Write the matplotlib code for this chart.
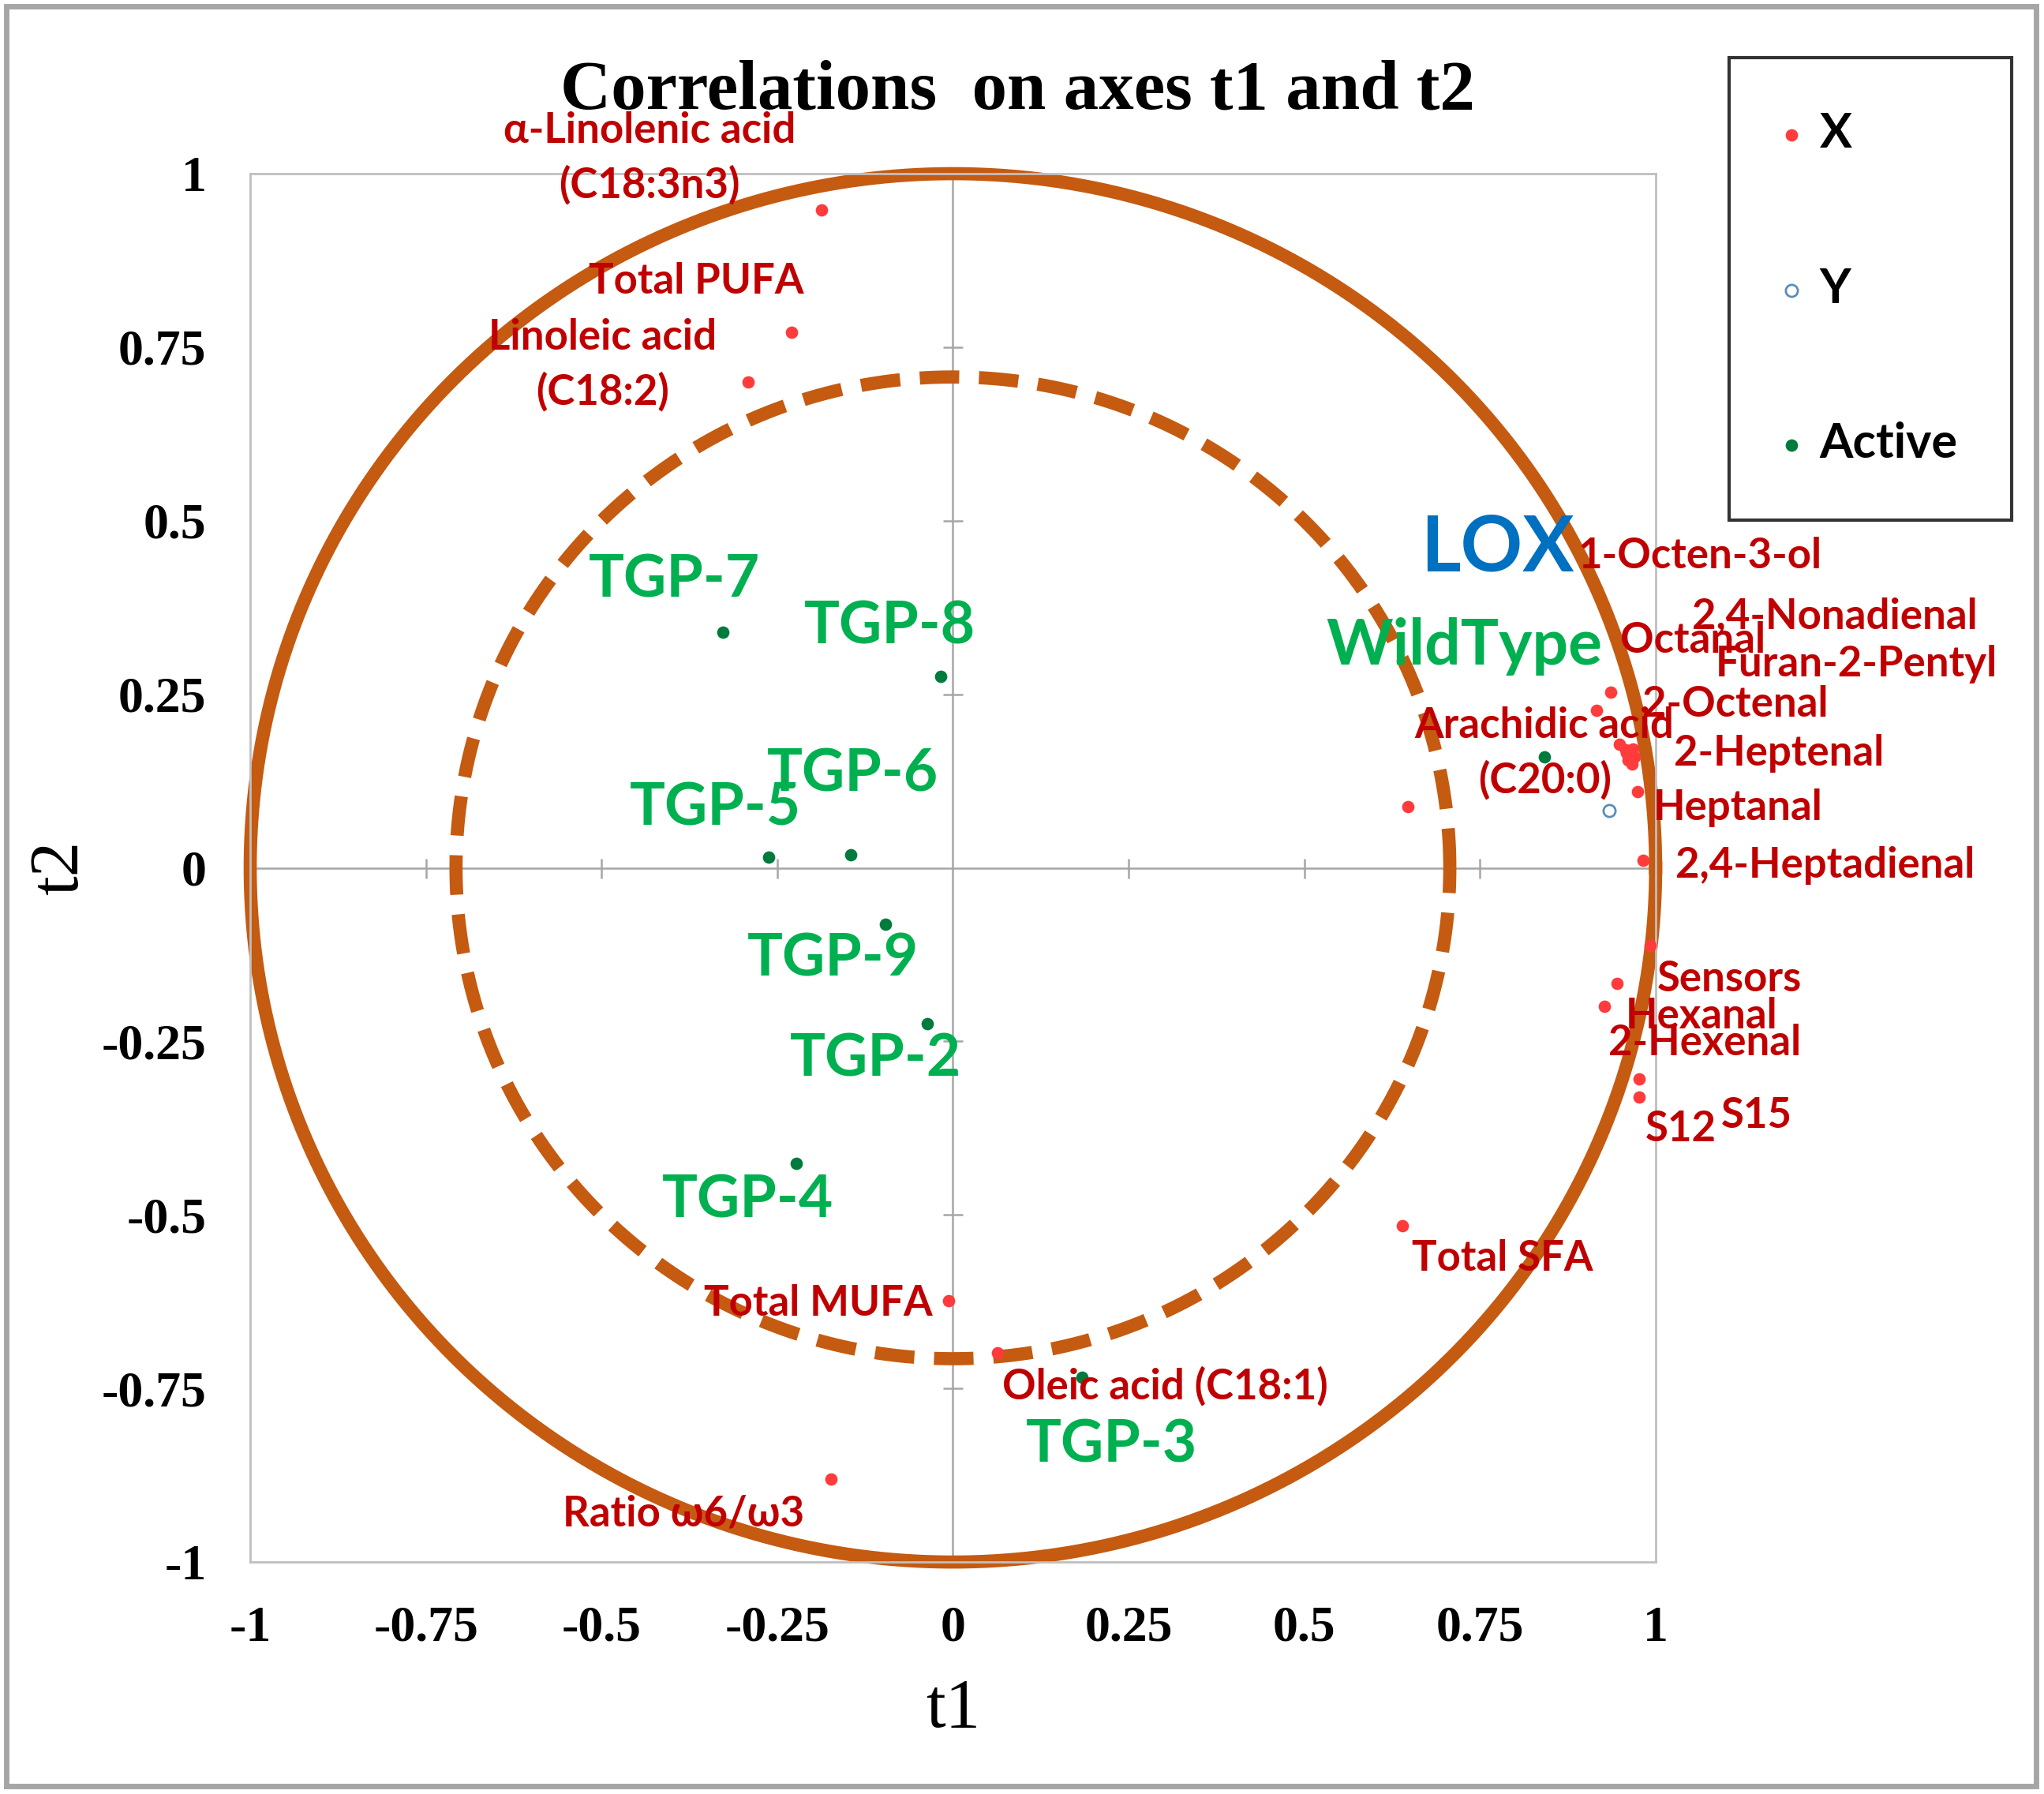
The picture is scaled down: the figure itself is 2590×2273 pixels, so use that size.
import numpy as np
import matplotlib
matplotlib.use('Agg')
import matplotlib.pyplot as plt
from matplotlib.patches import Rectangle

# X variables (red): name, t1, t2
x_names = ['a-lin', 'pufa', 'linoleic', 'arachidic', 'sfa', 'mufa', 'oleic', 'ratio',
           'octenol', 'nonadienal', 'octanal', 'furan', 'octenal', 'heptenal_a', 'heptenal_b',
           'heptenal_c', 'heptanal', 'heptadienal', 'sensors', 'hexanal', 'hexenal', 's12', 's15', 'extra']
x_t1 = [-0.187, -0.230, -0.291, 0.648, 0.640, -0.006, 0.063, -0.174,
        0.936, 0.916, 0.949, 0.957, 0.967, 0.961, 0.970,
        0.958, 0.974, 0.982, 0.945, 0.927, 0.992, 0.976, 0.976, 0.966]
x_t2 = [0.948, 0.772, 0.700, 0.088, -0.515, -0.623, -0.699, -0.881,
        0.253, 0.227, 0.178, 0.170, 0.171, 0.155, 0.160,
        0.165, 0.110, 0.011, -0.167, -0.200, -0.112, -0.304, -0.330, 0.150]

# Y variable (open circle)
y_t1 = [0.934]
y_t2 = [0.082]

# Active observations (green)
obs_names = ['TGP-7', 'TGP-8', 'TGP-5', 'TGP-6', 'TGP-9', 'TGP-2', 'TGP-4', 'TGP-3', 'WildType']
obs_t1 = [-0.327, -0.017, -0.262, -0.145, -0.096, -0.037, -0.223, 0.184, 0.842]
obs_t2 = [0.340, 0.276, 0.015, 0.019, -0.081, -0.225, -0.426, -0.734, 0.160]

# label texts and anchor positions (data coords)
red_labels = ['1-Octen-3-ol', '2,4-Nonadienal', 'Octanal', 'Furan-2-Pentyl', '2-Octenal',
              '2-Heptenal', 'Heptanal', '2,4-Heptadienal', 'Sensors', 'Hexanal', '2-Hexenal',
              'S12', 'S15', 'Total SFA', 'Total MUFA', 'Oleic acid (C18:1)', 'Ratio ω6/ω3']
red_lx = [0.889, 1.052, 0.950, 1.085, 0.981, 1.026, 0.996, 1.028, 1.002, 0.957, 0.933,
          0.985, 1.093, 0.653, -0.354, 0.070, -0.555]
red_ly = [0.449, 0.362, 0.327, 0.293, 0.235, 0.165, 0.086, 0.004, -0.160, -0.214, -0.252,
          -0.376, -0.357, -0.563, -0.627, -0.747, -0.930]

red_center_labels = ['α-Linolenic acid\n(C18:3n3)', 'Total PUFA', 'Linoleic acid\n(C18:2)',
                     'Arachidic acid\n(C20:0)']
red_cx = [-0.432, -0.365, -0.499, 0.842]
red_cy = [1.022, 0.845, 0.725, 0.165]

green_lx = [-0.518, -0.212, -0.460, -0.265, -0.293, -0.232, -0.414, 0.104, 0.531]
green_ly = [0.415, 0.347, 0.086, 0.135, -0.131, -0.276, -0.479, -0.832, 0.319]

ticks = [-1, -0.75, -0.5, -0.25, 0, 0.25, 0.5, 0.75, 1]
tick_labels = ['-1', '-0.75', '-0.5', '-0.25', '0', '0.25', '0.5', '0.75', '1']

ORANGE = '#C55A11'
LABEL_RED = '#C00000'
DOT_RED = '#FF3B3B'
GREEN_TXT = '#00B050'
GREEN_DOT = '#007A3D'
LABEL_FONT = 'Lato'
SERIF = 'Liberation Serif'

fig = plt.figure(figsize=(12.95, 11.365), dpi=200)
ax = fig.add_axes([0.1224, 0.1293, 0.6876, 0.7739])
ax.set_xlim(-1, 1)
ax.set_ylim(-1, 1)

for sp in ax.spines.values():
    sp.set_color('#BFBFBF')
    sp.set_linewidth(1.0)

# zero lines with small cross ticks
ax.axhline(0, color='#A6A6A6', lw=0.9, zorder=1)
ax.axvline(0, color='#A6A6A6', lw=0.9, zorder=1)
minor = [t for t in ticks if t not in (-1, 0, 1)]
ax.plot(minor, [0] * len(minor), ls='none', marker='|', ms=9, mew=0.9, color='#A6A6A6', zorder=1)
ax.plot([0] * len(minor), minor, ls='none', marker='_', ms=9, mew=0.9, color='#A6A6A6', zorder=1)

# correlation circles
theta = np.linspace(0, 2 * np.pi, 400)
ax.plot(np.cos(theta), np.sin(theta), color=ORANGE, lw=6, clip_on=False, zorder=2)
r_in = np.sqrt(0.5)
ax.plot(r_in * np.cos(theta), r_in * np.sin(theta), color=ORANGE, lw=6,
        dashes=(3.0, 1.5), zorder=2)

ax.scatter(x_t1, x_t2, s=32, color=DOT_RED, zorder=4, label='X', linewidths=0)
ax.scatter(y_t1, y_t2, s=30, facecolor='white', edgecolor='#5B8DB8', linewidths=1.0,
           zorder=4, label='Y')
ax.scatter(obs_t1, obs_t2, s=32, color=GREEN_DOT, zorder=4, label='Active', linewidths=0)

for txt, lx, ly in zip(red_labels, red_lx, red_ly):
    ax.text(lx, ly, txt, color=LABEL_RED, fontsize=19, fontweight='bold',
            family=LABEL_FONT, ha='left', va='center', zorder=5, clip_on=False)
for txt, cx, cy in zip(red_center_labels, red_cx, red_cy):
    ax.text(cx, cy, txt, color=LABEL_RED, fontsize=19, fontweight='bold',
            family=LABEL_FONT, ha='center', va='center', linespacing=1.45,
            zorder=5, clip_on=False)
for txt, lx, ly in zip(obs_names, green_lx, green_ly):
    size = 29 if txt == 'WildType' else 27
    ax.text(lx, ly, txt, color=GREEN_TXT, fontsize=size, fontweight='bold',
            family=LABEL_FONT, ha='left', va='center', zorder=5)
ax.text(0.666, 0.460, 'LOX', color='#0070C0', fontsize=35, fontweight='bold',
        family=LABEL_FONT, ha='left', va='center', zorder=5)

ax.set_xticks(ticks)
ax.set_xticklabels(tick_labels)
ax.set_yticks(ticks)
ax.set_yticklabels(tick_labels)
ax.tick_params(length=0, labelsize=23, pad=20)
for lab in ax.get_xticklabels() + ax.get_yticklabels():
    lab.set_family(SERIF)
    lab.set_fontweight('bold')

ax.set_xlabel('t1', family=SERIF, fontsize=32, labelpad=12)
ax.set_ylabel('t2', family=SERIF, fontsize=32, labelpad=4)

fig.text(0.498, 0.949, 'Correlations  on axes t1 and t2', family=SERIF, fontsize=32,
         fontweight='bold', ha='center', va='center')

leg = fig.legend(loc='upper left', bbox_to_anchor=(0.846, 0.968), frameon=True,
                 fancybox=False, edgecolor='black', labelspacing=2.3,
                 borderpad=1.12, borderaxespad=0, handletextpad=0.4, handlelength=0.35,
                 prop={'family': LABEL_FONT, 'weight': 'bold', 'size': 22})
leg.get_frame().set_linewidth(1.5)

fig.patches.append(Rectangle((0.003, 0.0044), 0.993, 0.992, transform=fig.transFigure,
                             fill=False, edgecolor='#A6A6A6', lw=2.5))

fig.savefig('out.png', dpi=200)
